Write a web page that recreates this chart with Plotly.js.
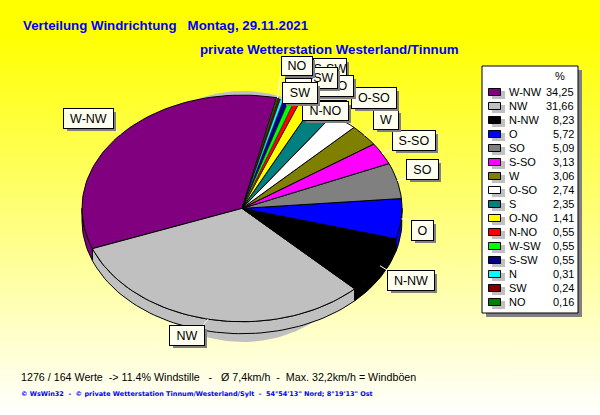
<!DOCTYPE html>
<html><head><meta charset="utf-8">
<script src="https://cdn.plot.ly/plotly-3.0.1.min.js"></script>
<style>
html,body{margin:0;padding:0;width:600px;height:415px;overflow:hidden;background:linear-gradient(to bottom,#ffff00 0%,#ffff00 8%,#ffffff 100%);}
#c{width:600px;height:415px;}
</style></head><body><div id="c"></div>
<script>
// ---- data ----
const categories = ['W-NW','NW','N-NW','O','SO','S-SO','W','O-SO','S','O-NO','N-NO','W-SW','S-SW','N','SW','NO'];
const percent = [34.25,31.66,8.23,5.72,5.09,3.13,3.06,2.74,2.35,1.41,0.55,0.55,0.55,0.31,0.24,0.16];
const percentLabels = ['34,25','31,66','8,23','5,72','5,09','3,13','3,06','2,74','2,35','1,41','0,55','0,55','0,55','0,31','0,24','0,16'];
const colors = ['#800080','#c0c0c0','#000000','#0000ff','#808080','#ff00ff','#808000','#ffffff','#008080','#ffff00','#ff0000','#00ff00','#000080','#00ffff','#800000','#008000'];
const titleLine1 = 'Verteilung Windrichtung\u00a0\u00a0\u00a0Montag, 29.11.2021';
const titleLine2 = 'private Wetterstation Westerland/Tinnum';
const statsLine = '1276 / 164 Werte\u00a0\u00a0-> 11.4% Windstille\u00a0\u00a0\u00a0-\u00a0\u00a0\u00a0Ø 7,4km/h\u00a0\u00a0-\u00a0\u00a0Max. 32,2km/h = Windböen';
const footerLine = '© WsWin32\u00a0\u00a0-\u00a0\u00a0© private Wetterstation Tinnum/Westerland/Sylt\u00a0\u00a0-\u00a0\u00a054°54\'13" Nord; 8°19\'13" Ost';

// ---- layout geometry (pixel-like axis units) ----
const P = {cx:242, cy:208.4, rx:160, ry:113.3, depth:12, start:77.5};
const labelBoxes = { // x0,y0,x1,y1
 'S':[320,100,345,119],'S-SW':[313,58,345,77],'O-NO':[308,75,352,95],'N-NO':[302,101,347,119],
 'W-SW':[293,67,336,87],'N':[285,78,310,97],'NO':[281,56,311,74],'SW':[282,82,316,102],
 'W-NW':[63,108,112,127],'NW':[169,325,203,344],'N-NW':[387,270,433,289],'O':[411,220,432,239],
 'SO':[406,159,437,178],'S-SO':[392,130,434,149],'W':[373,109,397,128],'O-SO':[351,87,395,107]
};
const labelOrder = ['W-NW','NW','N-NW','O','SO','S-SO','W','O-SO','S','S-SW','O-NO','N-NO','W-SW','N','NO','SW'];

const ex = t => P.cx + P.rx*Math.cos(t*Math.PI/180);
const ey = (t,d=0) => P.cy - P.ry*Math.sin(t*Math.PI/180) + d;
const range = (a,b) => { const n=Math.max(2,Math.ceil(Math.abs(b-a)/2)); const o=[]; for(let i=0;i<=n;i++) o.push(a+(b-a)*i/n); return o; };

const traces = [];
const poly = (xs,ys,fill,lw=1,lc='#000') => traces.push({type:'scatter',mode:'lines',x:xs,y:ys,fill:'toself',fillcolor:fill,line:{color:lc,width:lw,shape:'linear'},hoverinfo:'skip',showlegend:false});

// drop shadow of the pie
{ const ts=range(0,360); poly(ts.map(t=>243+130*Math.cos(t*Math.PI/180)), ts.map(t=>216.5-125.5*Math.sin(t*Math.PI/180)), '#c0c0c0',0,'rgba(0,0,0,0)'); }

// wedge angles from the values
let acc=P.start; const wedges=percent.map(v=>{const a=acc; acc+=v*3.6; return [a,acc];});

// side walls
wedges.forEach(([a,b],i)=>{
  const lo=Math.max(a,180), hi=Math.min(b,360);
  if(hi>lo){ const ts=range(lo,hi), rs=[...ts].reverse();
    poly([...ts.map(ex),...rs.map(ex),ex(lo)],[...ts.map(t=>ey(t)),...rs.map(t=>ey(t,P.depth)),ey(lo)],colors[i]); }
});
// top faces (thin slices get a finer outline so their colour stays visible)
wedges.forEach(([a,b],i)=>{
  const ts=range(a,b);
  poly([P.cx,...ts.map(ex),P.cx],[P.cy,...ts.map(t=>ey(t)),P.cy],colors[i], (b-a)<4 ? 0.4 : 1);
});
// leader lines
categories.forEach((c,i)=>{
  const m=(wedges[i][0]+wedges[i][1])/2, x=ex(m), y=ey(m), b=labelBoxes[c];
  const lx=Math.min(Math.max(x,b[0]),b[2]), ly=Math.min(Math.max(y,b[1]),b[3]);
  traces.push({type:'scatter',mode:'lines',x:[x,lx],y:[y,ly],line:{color:'#ffffff',width:1},hoverinfo:'skip',showlegend:false});
});

const F='"Liberation Sans", Arial, sans-serif';
const annotations=[];
const txt=(x,y,text,opt={})=>annotations.push(Object.assign({xref:'x',yref:'y',x,y,text,showarrow:false,xanchor:'left',yanchor:'middle',font:{family:F,size:11,color:'#000'},borderpad:0,borderwidth:0},opt));
const box=(b,text,fill,line,bw)=>annotations.push({xref:'x',yref:'y',x:b[0],y:b[1],xanchor:'left',yanchor:'top',width:b[2]-b[0],height:b[3]-b[1],text,showarrow:false,align:'center',valign:'middle',bgcolor:fill,bordercolor:line,borderwidth:bw,borderpad:0,font:{family:F,size:12.5,color:'#000'}});

labelOrder.forEach(c=>{
  const b=labelBoxes[c];
  box([b[0]+4,b[1]+4,b[2]+4,b[3]+4],'\u00a0','#808080','#808080',0);
  box(b,c,'#fffff0','#000000',1);
});

txt(23,25.5,titleLine1,{font:{family:F,size:13.3,color:'#0000ff',weight:700}});
txt(200,49,titleLine2,{font:{family:F,size:13.3,color:'#0000ff',weight:700}});
txt(21,377,statsLine,{font:{family:F,size:10.7,color:'#000'}});
txt(21,394,footerLine,{font:{family:'"DejaVu Sans",Verdana,sans-serif',size:6.5,color:'#0000ff',weight:700}});

// legend
const shapes=[];
const rect=(x0,y0,x1,y1,fill,line,w=1)=>shapes.push({type:'rect',xref:'x',yref:'y',x0,y0,x1,y1,fillcolor:fill,line:{color:line,width:w},layer:'above'});
rect(486,70,582,317,'#808080','#808080',0);
rect(482,66,578,313,'#ffffff','#000000',1);
txt(560,76,'%',{xanchor:'center'});
categories.forEach((c,i)=>{
  const y=92+14*i;
  rect(492,y-1,505,y+7,'#c0c0c0','#c0c0c0',0);
  rect(488.5,y-3.5,500.5,y+3.5,colors[i],'#000000',1);
  txt(508.5,y,c);
  txt(573.5,y,percentLabels[i],{xanchor:'right'});
});

Plotly.newPlot('c',traces,{
  width:600,height:415,margin:{l:0,r:0,t:0,b:0},
  paper_bgcolor:'rgba(0,0,0,0)',plot_bgcolor:'rgba(0,0,0,0)',
  xaxis:{range:[0,600],visible:false,fixedrange:true},
  yaxis:{range:[415,0],visible:false,fixedrange:true},
  hovermode:false,showlegend:false,annotations,shapes
},{displayModeBar:false,staticPlot:true});
</script></body></html>
